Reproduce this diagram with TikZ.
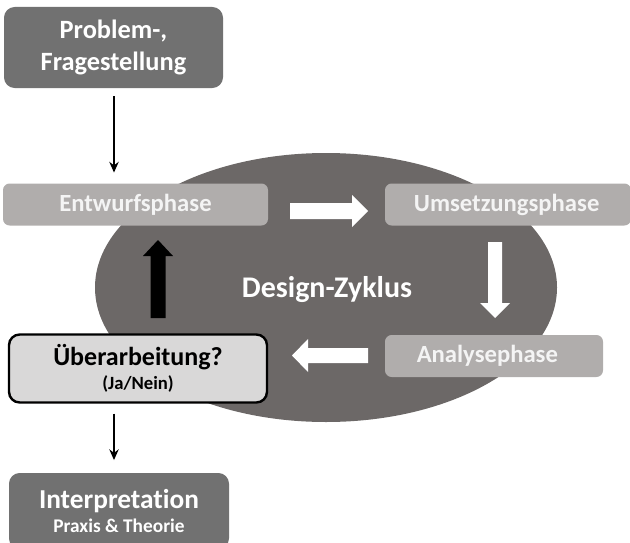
\documentclass[tikz,border=0pt]{standalone}
\usepackage{fontspec}
\setmainfont{Carlito}[Ligatures=NoCommon]
\usetikzlibrary{arrows.meta}
\definecolor{darkbox}{HTML}{717171}
\definecolor{cyclegray}{HTML}{6C6867}
\definecolor{phasebox}{HTML}{B0ADAC}
\definecolor{reviewbox}{HTML}{D9D8D8}
\definecolor{phasetext}{HTML}{F4F4F4}
\tikzset{
  darkstep/.style={fill=darkbox, rounded corners=8pt, text=white, font=\bfseries,
    align=center, inner sep=0pt},
  phase/.style={fill=phasebox, rounded corners=5pt, text=phasetext, font=\bfseries\fontsize{18.5}{22}\selectfont,
    inner sep=0pt},
  review/.style={fill=reviewbox, draw=black, line width=1.8pt, rounded corners=8pt, align=center, inner sep=0pt},
  flow/.style={-{Stealth[length=8pt,width=7pt]}, line width=1.4pt},
}
\begin{document}
\begin{tikzpicture}[x=0.75pt, y=-0.75pt]
\useasboundingbox (0,0) rectangle (630,542);

% design cycle background
\fill[cyclegray] (326,287.5) ellipse [x radius=231, y radius=134.5];
\node[text=white, font=\bfseries\fontsize{22.5}{26}\selectfont] (cycle) at (327,290) {Design-Zyklus};

% boxes
\node[darkstep, minimum width=219*0.75pt, minimum height=81*0.75pt,
  font=\bfseries\fontsize{19.8}{23.5}\selectfont] (problem) at (113.5,47.5) {Problem-,\\Fragestellung};
\node[phase, minimum width=265*0.75pt, minimum height=42*0.75pt] (entwurf) at (135.5,204.5) {Entwurfsphase};
\node[phase, minimum width=246*0.75pt, minimum height=42*0.75pt] (umsetzung) at (508,204.5) {\hspace*{-2pt}Umsetzungsphase};
\node[phase, minimum width=218*0.75pt, minimum height=42*0.75pt] (analyse) at (494,356) {\hspace*{-10pt}Analysephase};
\node[review, minimum width=258*0.75pt, minimum height=68*0.75pt] (review) at (138,368.5)
  {{\bfseries\fontsize{19.5}{21}\selectfont Überarbeitung?}\\[3pt]{\bfseries\fontsize{14}{16}\selectfont (Ja/Nein)}};
\node[darkstep, minimum width=220*0.75pt, minimum height=76*0.75pt] (interp) at (119,511)
  {{\fontsize{20.5}{22}\selectfont Interpretation}\\[3pt]{\fontsize{14.5}{16}\selectfont Praxis \& Theorie}};

% thin connectors
\draw[flow, shorten <=6pt, shorten >=8pt] (problem.south -| 114,0) -- (entwurf.north -| 114,0);
\draw[flow, shorten <=7.5pt, shorten >=9.5pt] (review.south -| 114,0) -- (interp.north -| 114,0);

% block arrows of the cycle
\fill[white] (290,203) -- (352,203) -- (352,195) -- (368,211) -- (352,227) -- (352,219) -- (290,219) -- cycle;
\fill[white] (488,242) -- (502,242) -- (502,303) -- (510,303) -- (495,318) -- (480,303) -- (488,303) -- cycle;
\fill[white] (368,348) -- (308,348) -- (308,339) -- (292,355.5) -- (308,372) -- (308,363) -- (368,363) -- cycle;
\fill[black] (150.5,318) -- (150.5,256) -- (143,256) -- (158,240) -- (173,256) -- (165.5,256) -- (165.5,318) -- cycle;
\end{tikzpicture}
\end{document}
